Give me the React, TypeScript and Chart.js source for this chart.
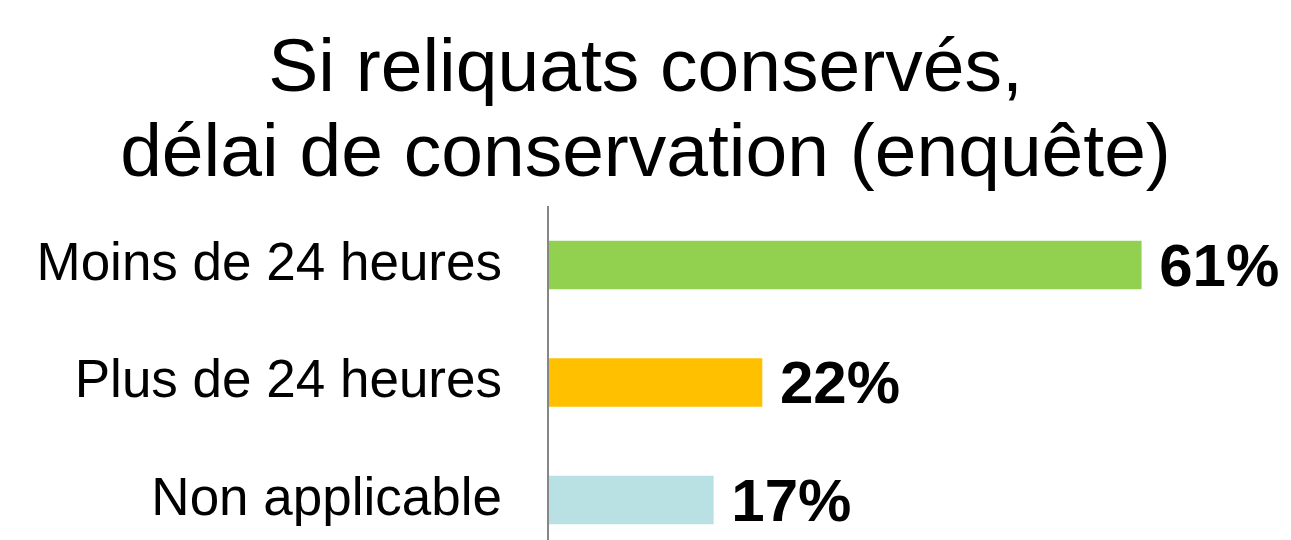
import React, { useEffect, useRef } from "react";
import { Chart, registerables } from "chart.js";

Chart.register(...registerables);

const titleLines = ["Si reliquats conservés,", "délai de conservation (enquête)"];
const categories = ["Moins de 24 heures", "Plus de 24 heures", "Non applicable"];
const values = [61, 22, 17];
const colors = ["#92D050", "#FFC000", "#B9E0E3"];

const FONT = "'Liberation Sans', Arial, sans-serif";

const valueLabels = {
  id: "valueLabels",
  afterDatasetsDraw(chart: any) {
    const ctx = chart.ctx;
    const meta = chart.getDatasetMeta(0);
    ctx.save();
    ctx.font = `bold 60px ${FONT}`;
    ctx.fillStyle = "#000";
    ctx.textAlign = "left";
    ctx.textBaseline = "middle";
    meta.data.forEach((el: any, i: number) => {
      ctx.fillText(`${values[i]}%`, el.x + 18, el.y + 4);
    });
    ctx.restore();
  },
};

export default function App() {
  const ref = useRef<HTMLCanvasElement>(null);
  useEffect(() => {
    document.body.style.margin = "0";
    const chart = new Chart(ref.current!, {
      type: "bar",
      data: {
        datasets: [
          {
            data: values.map((v, i) => ({ x: v, y: i })),
            backgroundColor: colors,
            barThickness: 48,
            borderWidth: 0,
          },
        ],
      },
      options: {
        indexAxis: "y",
        animation: false,
        responsive: false,
        maintainAspectRatio: false,
        layout: { padding: 0 },
        plugins: {
          legend: { display: false },
          tooltip: { enabled: false },
          title: {
            display: true,
            text: titleLines,
            color: "#000",
            font: { family: FONT, size: 75, weight: "normal", lineHeight: 1.133 },
            padding: { top: 28, bottom: 9 },
          },
        },
        scales: {
          x: { type: "linear", display: false, min: 0, max: 76.4 },
          y: {
            type: "linear",
            reverse: true,
            offset: false,
            min: -0.494,
            max: 2.34,
            grid: { display: false, offset: false },
            border: { display: true, color: "#868686", width: 2, z: 1 },
            afterBuildTicks: (s: any) => {
              s.ticks = categories.map((_, i) => ({ value: i }));
            },
            afterFit: (s: any) => {
              s.width = 548;
              s.paddingTop = 0;
              s.paddingBottom = 0;
            },
            ticks: {
              color: "#000",
              padding: 38,
              font: { family: FONT, size: 53 },
              callback: (v: any) => categories[v as number] ?? "",
            },
          },
        },
      },
      plugins: [valueLabels],
    });
    return () => chart.destroy();
  }, []);
  return <canvas ref={ref} width={1291} height={540} style={{ display: "block" }} />;
}
